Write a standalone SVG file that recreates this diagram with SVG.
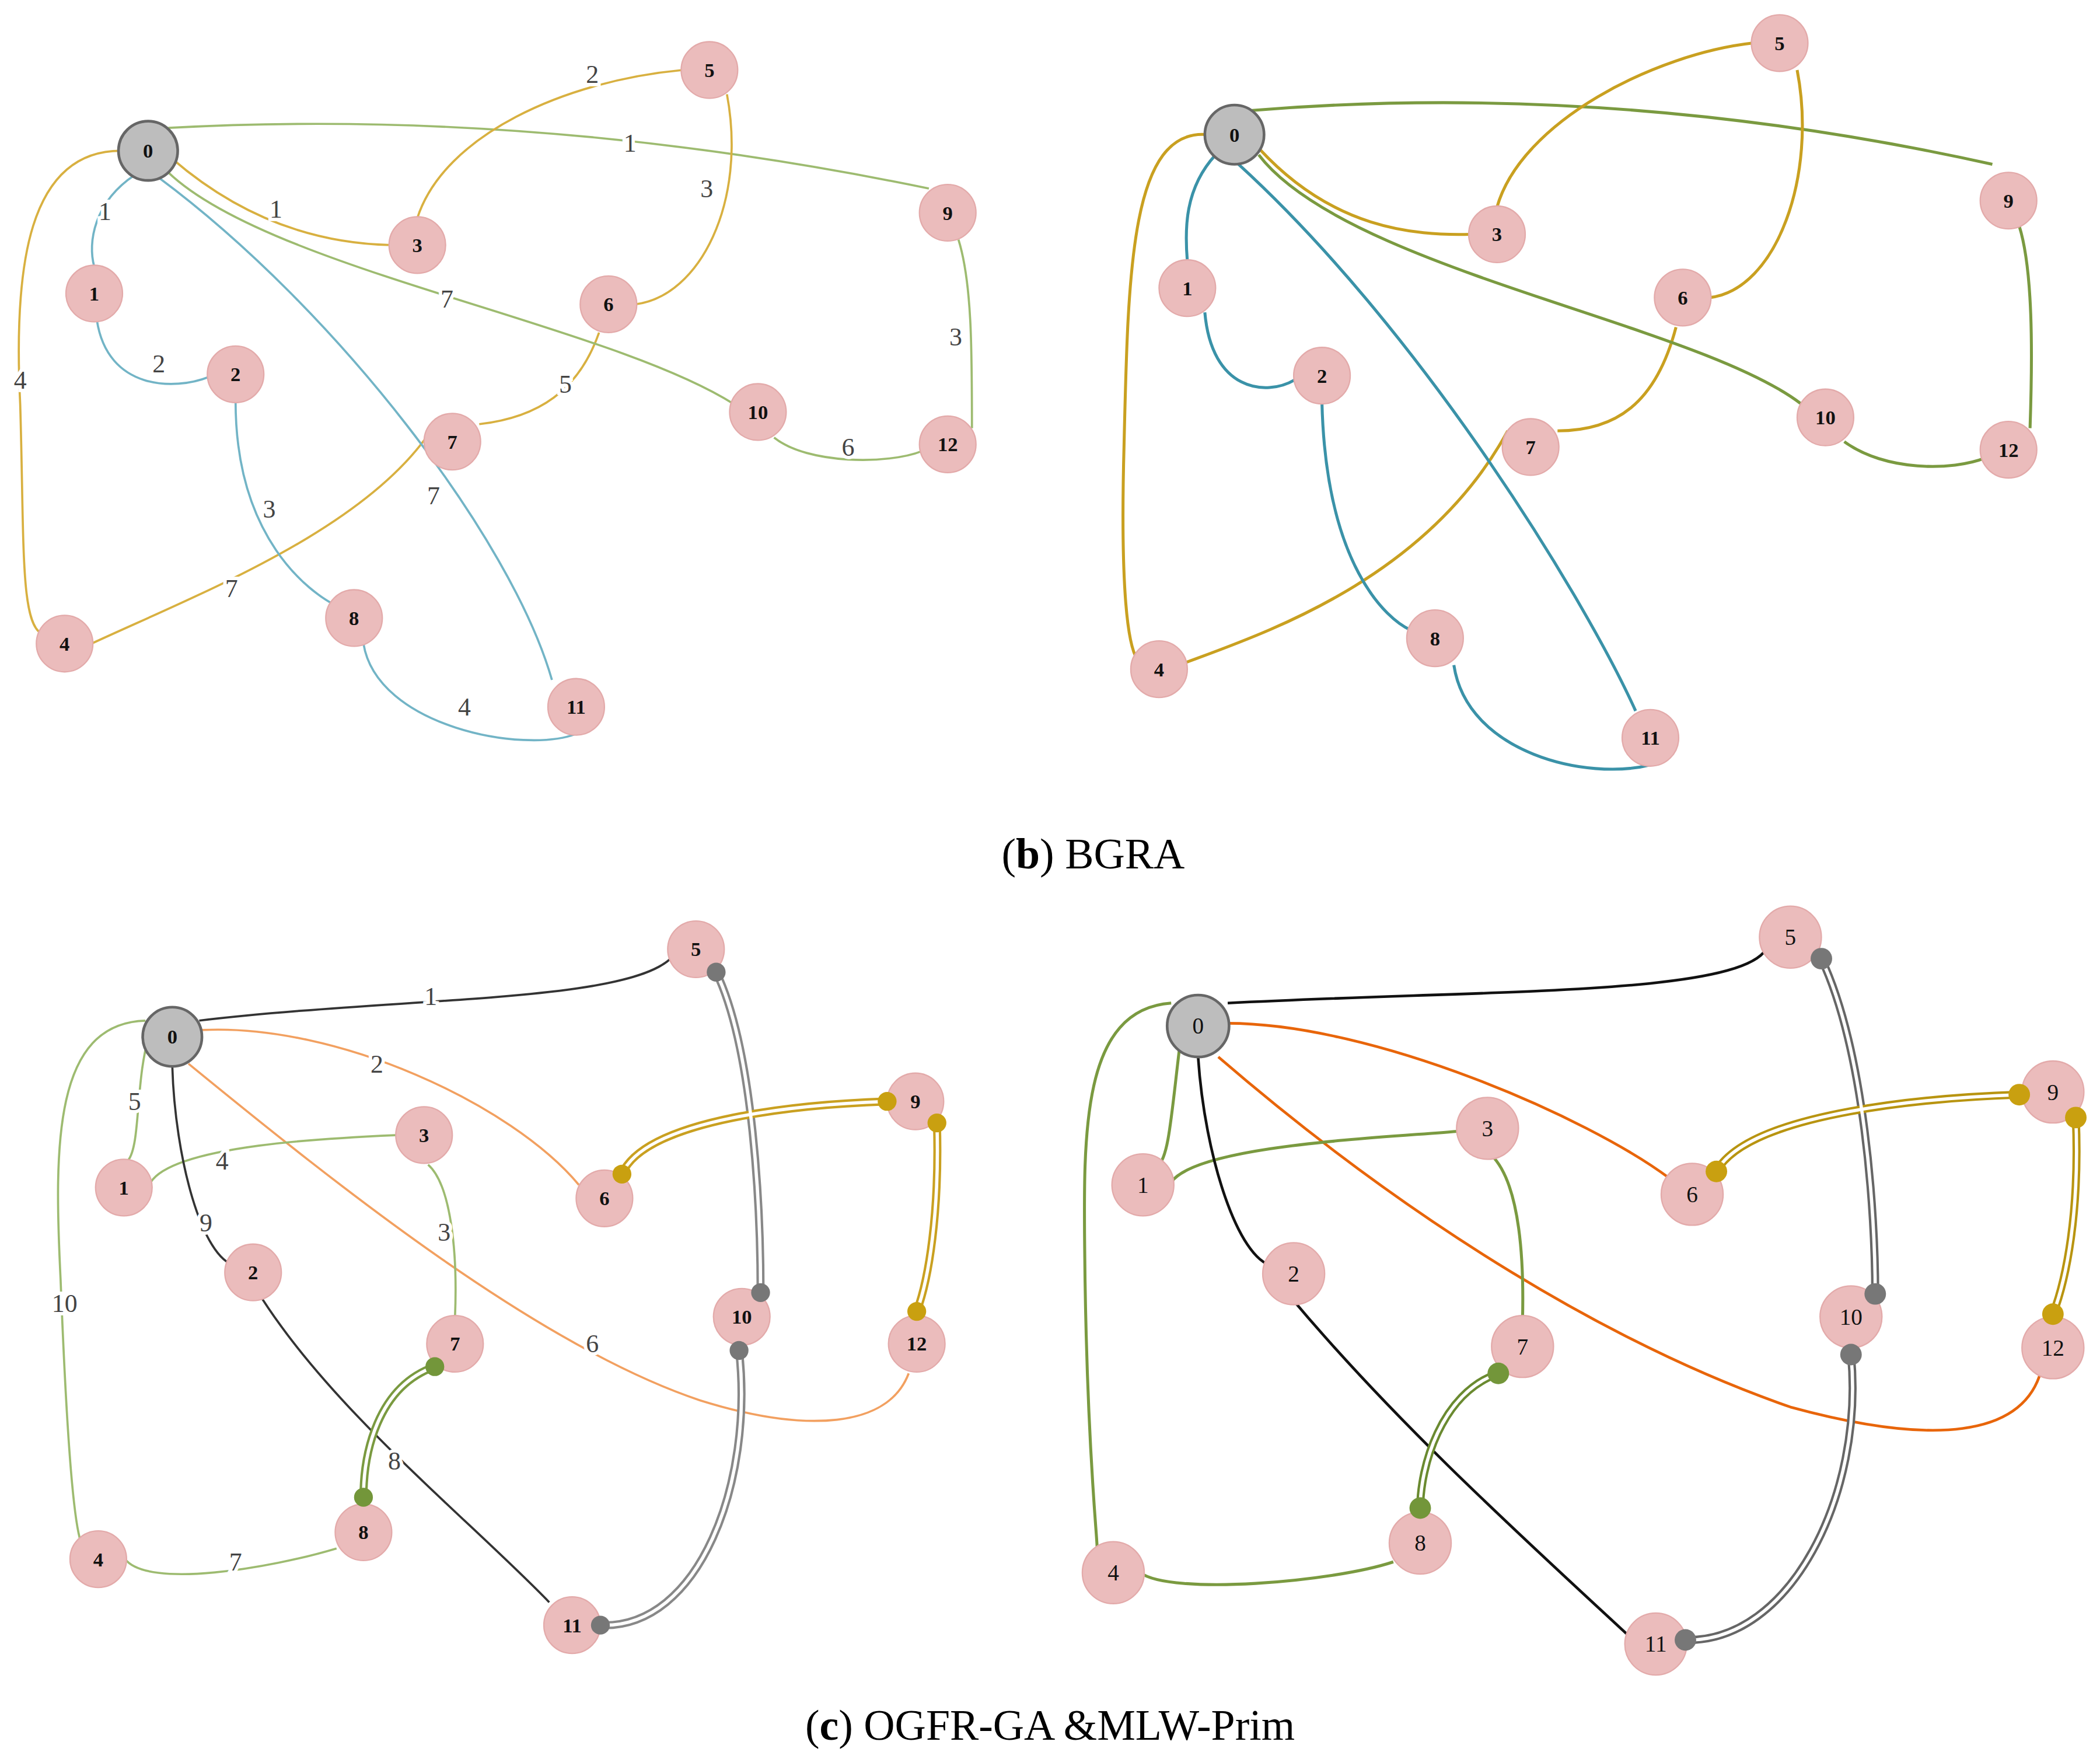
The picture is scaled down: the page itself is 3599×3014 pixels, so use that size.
<svg xmlns="http://www.w3.org/2000/svg" width="3599" height="3014" viewBox="0 0 3599 3014">
<style>
.n{fill:#ebbcbc;stroke:#e3aaaa;stroke-width:1}
.g{fill:#bdbdbd;stroke:#666;stroke-width:2}
.t{font-family:"Liberation Serif",serif;font-size:17px;text-anchor:middle;dominant-baseline:central;fill:#111}
.tb{font-weight:bold;font-size:15px}
.e{fill:none;stroke-width:1.6}
.lb{font-family:"Liberation Serif",serif;font-size:19px;text-anchor:middle;dominant-baseline:central;fill:#444;stroke:#fff;stroke-width:5;paint-order:stroke}
.cap{font-family:"Liberation Serif",serif;font-size:32px;text-anchor:middle;fill:#000}
.y1{stroke:#d8b040}.b1{stroke:#72b4c6}.gr1{stroke:#9dbb70}
.y2{stroke:#c9a020;stroke-width:2.2}.b2{stroke:#3a92a8;stroke-width:2.2}.gr2{stroke:#7a9a40;stroke-width:2.2}
.k{stroke:#333}.o1{stroke:#f2a060}.o2{stroke:#e8650a;stroke-width:2}.k2{stroke:#111;stroke-width:2}
.dbo{fill:none;stroke-width:6}.dbi{fill:none;stroke:#fff;stroke-width:2.4}
</style>
<rect width="3599" height="3014" fill="#fff"/>
<g transform="scale(2.3071)">
<g id="connectors">
<!-- top left -->
<path class="e gr1" d="M125,95 Q400,80 690,140"/>
<path class="e y1" d="M128,118 Q200,180 290,182"/>
<path class="e y1" d="M310,162 C330,100 420,60 507,52"/>
<path class="e y1" d="M540,70 C555,150 520,220 472,226"/>
<path class="e y1" d="M445,247 C430,290 400,310 356,315"/>
<path class="e y1" d="M325,312 C280,390 150,440 68,478"/>
<path class="e y1" d="M92,112 C20,110 10,200 15,300 C18,400 15,460 30,470"/>
<path class="e b1" d="M100,130 C70,150 65,180 70,198"/>
<path class="e b1" d="M72,238 C80,290 130,290 155,280"/>
<path class="e b1" d="M175,298 C175,400 230,440 250,450"/>
<path class="e b1" d="M270,478 C280,540 390,560 428,545"/>
<path class="e b1" d="M118,132 C250,230 380,400 410,505"/>
<path class="e gr1" d="M125,128 C200,200 450,240 545,300"/>
<path class="e gr1" d="M575,325 C600,345 660,345 685,335"/>
<path class="e gr1" d="M722,318 C722,260 722,210 712,178"/>
<text class="lb" x="468" y="106">1</text><text class="lb" x="205" y="155">1</text>
<text class="lb" x="440" y="55">2</text><text class="lb" x="525" y="140">3</text>
<text class="lb" x="420" y="285">5</text><text class="lb" x="172" y="437">7</text>
<text class="lb" x="15" y="282">4</text><text class="lb" x="78" y="157">1</text>
<text class="lb" x="118" y="270">2</text><text class="lb" x="200" y="378">3</text>
<text class="lb" x="345" y="525">4</text><text class="lb" x="322" y="368">7</text>
<text class="lb" x="332" y="222">7</text><text class="lb" x="630" y="332">6</text>
<text class="lb" x="710" y="250">3</text>
<!-- top right -->
<path class="e gr2" d="M930,82 Q1200,60 1480,122"/>
<path class="e y2" d="M935,110 C990,170 1050,175 1092,174"/>
<path class="e y2" d="M1112,154 C1130,90 1230,40 1302,32"/>
<path class="e y2" d="M1335,52 C1350,130 1320,215 1270,221"/>
<path class="e y2" d="M1245,243 C1230,300 1200,320 1157,320"/>
<path class="e y2" d="M1120,320 C1060,430 940,470 881,492"/>
<path class="e y2" d="M897,100 C840,95 838,200 835,330 C832,440 838,480 845,490"/>
<path class="e b2" d="M903,115 C880,140 880,170 882,194"/>
<path class="e b2" d="M895,232 C900,290 940,295 962,282"/>
<path class="e b2" d="M982,299 C985,420 1030,460 1048,468"/>
<path class="e b2" d="M1080,494 C1090,560 1180,580 1226,568"/>
<path class="e b2" d="M920,122 C1060,250 1180,450 1215,528"/>
<path class="e gr2" d="M935,115 C1000,200 1260,240 1338,300"/>
<path class="e gr2" d="M1370,328 C1400,350 1450,350 1475,340"/>
<path class="e gr2" d="M1508,318 C1510,260 1510,200 1500,168"/>
<!-- bottom left -->
<path class="e k" d="M148,758 C300,740 470,745 500,710"/>
<path class="e o1" d="M150,765 C250,760 380,820 430,880"/>
<path class="e o1" d="M140,790 C250,880 400,1000 520,1040 C600,1065 660,1060 675,1020"/>
<path class="e gr1" d="M112,765 C100,800 105,850 95,862"/>
<path class="e gr1" d="M112,878 C130,850 250,845 295,843"/>
<path class="e gr1" d="M318,865 C335,880 340,930 338,978"/>
<path class="e k" d="M128,792 C130,860 150,935 175,940"/>
<path class="e k" d="M195,965 C250,1050 350,1130 408,1190"/>
<path class="e gr1" d="M108,758 C40,760 40,850 45,950 C50,1080 55,1130 60,1145"/>
<path class="e gr1" d="M93,1158 C110,1180 200,1165 250,1150"/>
<text class="lb" x="320" y="740">1</text><text class="lb" x="280" y="790">2</text>
<text class="lb" x="440" y="998">6</text><text class="lb" x="100" y="818">5</text>
<text class="lb" x="165" y="862">4</text><text class="lb" x="330" y="915">3</text>
<text class="lb" x="153" y="908">9</text><text class="lb" x="293" y="1085">8</text>
<text class="lb" x="48" y="968">10</text><text class="lb" x="175" y="1160">7</text>
<!-- bottom right -->
<path class="e k2" d="M912,745 C1100,735 1290,740 1312,705"/>
<path class="e o2" d="M912,760 C1020,760 1180,830 1240,875"/>
<path class="e o2" d="M905,785 C1050,910 1200,1000 1330,1045 C1440,1075 1500,1065 1515,1022"/>
<path class="e gr2" d="M876,780 C870,830 868,860 860,866"/>
<path class="e gr2" d="M870,878 C890,850 1030,845 1085,840"/>
<path class="e gr2" d="M1108,858 C1130,880 1132,940 1131,980"/>
<path class="e k2" d="M890,785 C895,860 920,935 945,940"/>
<path class="e k2" d="M961,966 C1040,1060 1140,1150 1210,1215"/>
<path class="e gr2" d="M870,745 C800,750 805,850 806,950 C808,1080 815,1140 815,1150"/>
<path class="e gr2" d="M847,1168 C870,1185 990,1175 1035,1160"/>
</g>
<g id="doublelines">
<g stroke="#888"><path class="dbo" d="M532,722 C560,780 565,900 565,960"/><path class="dbo" d="M549,1003 C560,1100 520,1210 446,1207"/></g>
<g stroke="#c9a020"><path class="dbo" d="M462,872 C480,830 600,820 659,818"/><path class="dbo" d="M696,834 C698,900 690,950 681,974"/></g>
<g stroke="#7a9a40"><path class="dbo" d="M323,1015 C280,1030 270,1080 270,1112"/></g>
<path class="dbi" d="M532,722 C560,780 565,900 565,960"/><path class="dbi" d="M549,1003 C560,1100 520,1210 446,1207"/>
<path class="dbi" d="M462,872 C480,830 600,820 659,818"/><path class="dbi" d="M696,834 C698,900 690,950 681,974"/>
<path class="dbi" d="M323,1015 C280,1030 270,1080 270,1112"/>
<g stroke="#666"><path class="dbo" d="M1353,712 C1385,780 1393,900 1393,961"/><path class="dbo" d="M1375,1006 C1385,1110 1330,1220 1252,1218"/></g>
<g stroke="#b89410"><path class="dbo" d="M1275,870 C1300,825 1440,815 1500,813"/><path class="dbo" d="M1542,830 C1545,900 1535,950 1525,976"/></g>
<g stroke="#6a8a30"><path class="dbo" d="M1113,1020 C1070,1035 1055,1090 1055,1120"/></g>
<path class="dbi" d="M1353,712 C1385,780 1393,900 1393,961"/><path class="dbi" d="M1375,1006 C1385,1110 1330,1220 1252,1218"/>
<path class="dbi" d="M1275,870 C1300,825 1440,815 1500,813"/><path class="dbi" d="M1542,830 C1545,900 1535,950 1525,976"/>
<path class="dbi" d="M1113,1020 C1070,1035 1055,1090 1055,1120"/>
</g>
<g id="nodes">
<g id="tl0"><circle class="g" cx="110" cy="112" r="22"/><text class="t tb" x="110" y="112">0</text></g>
<g id="tl5"><circle class="n" cx="527" cy="52" r="21"/><text class="t tb" x="527" y="52">5</text></g>
<g id="tl3"><circle class="n" cx="310" cy="182" r="21"/><text class="t tb" x="310" y="182">3</text></g>
<g id="tl9"><circle class="n" cx="704" cy="158" r="21"/><text class="t tb" x="704" y="158">9</text></g>
<g id="tl1"><circle class="n" cx="70" cy="218" r="21"/><text class="t tb" x="70" y="218">1</text></g>
<g id="tl6"><circle class="n" cx="452" cy="226" r="21"/><text class="t tb" x="452" y="226">6</text></g>
<g id="tl2"><circle class="n" cx="175" cy="278" r="21"/><text class="t tb" x="175" y="278">2</text></g>
<g id="tl10"><circle class="n" cx="563" cy="306" r="21"/><text class="t tb" x="563" y="306">10</text></g>
<g id="tl12"><circle class="n" cx="704" cy="330" r="21"/><text class="t tb" x="704" y="330">12</text></g>
<g id="tl7"><circle class="n" cx="336" cy="328" r="21"/><text class="t tb" x="336" y="328">7</text></g>
<g id="tl4"><circle class="n" cx="48" cy="478" r="21"/><text class="t tb" x="48" y="478">4</text></g>
<g id="tl8"><circle class="n" cx="263" cy="459" r="21"/><text class="t tb" x="263" y="459">8</text></g>
<g id="tl11"><circle class="n" cx="428" cy="525" r="21"/><text class="t tb" x="428" y="525">11</text></g>

<g id="tr0"><circle class="g" cx="917" cy="100" r="22"/><text class="t tb" x="917" y="100">0</text></g>
<g id="tr5"><circle class="n" cx="1322" cy="32" r="21"/><text class="t tb" x="1322" y="32">5</text></g>
<g id="tr3"><circle class="n" cx="1112" cy="174" r="21"/><text class="t tb" x="1112" y="174">3</text></g>
<g id="tr9"><circle class="n" cx="1492" cy="149" r="21"/><text class="t tb" x="1492" y="149">9</text></g>
<g id="tr1"><circle class="n" cx="882" cy="214" r="21"/><text class="t tb" x="882" y="214">1</text></g>
<g id="tr6"><circle class="n" cx="1250" cy="221" r="21"/><text class="t tb" x="1250" y="221">6</text></g>
<g id="tr2"><circle class="n" cx="982" cy="279" r="21"/><text class="t tb" x="982" y="279">2</text></g>
<g id="tr10"><circle class="n" cx="1356" cy="310" r="21"/><text class="t tb" x="1356" y="310">10</text></g>
<g id="tr12"><circle class="n" cx="1492" cy="334" r="21"/><text class="t tb" x="1492" y="334">12</text></g>
<g id="tr7"><circle class="n" cx="1137" cy="332" r="21"/><text class="t tb" x="1137" y="332">7</text></g>
<g id="tr4"><circle class="n" cx="861" cy="497" r="21"/><text class="t tb" x="861" y="497">4</text></g>
<g id="tr8"><circle class="n" cx="1066" cy="474" r="21"/><text class="t tb" x="1066" y="474">8</text></g>
<g id="tr11"><circle class="n" cx="1226" cy="548" r="21"/><text class="t tb" x="1226" y="548">11</text></g>

<g id="bl0"><circle class="g" cx="128" cy="770" r="22"/><text class="t tb" x="128" y="770">0</text></g>
<g id="bl5"><circle class="n" cx="517" cy="705" r="21"/><text class="t tb" x="517" y="705">5</text></g>
<g id="bl3"><circle class="n" cx="315" cy="843" r="21"/><text class="t tb" x="315" y="843">3</text></g>
<g id="bl9"><circle class="n" cx="680" cy="818" r="21"/><text class="t tb" x="680" y="818">9</text></g>
<g id="bl1"><circle class="n" cx="92" cy="882" r="21"/><text class="t tb" x="92" y="882">1</text></g>
<g id="bl6"><circle class="n" cx="449" cy="890" r="21"/><text class="t tb" x="449" y="890">6</text></g>
<g id="bl2"><circle class="n" cx="188" cy="945" r="21"/><text class="t tb" x="188" y="945">2</text></g>
<g id="bl10"><circle class="n" cx="551" cy="978" r="21"/><text class="t tb" x="551" y="978">10</text></g>
<g id="bl12"><circle class="n" cx="681" cy="998" r="21"/><text class="t tb" x="681" y="998">12</text></g>
<g id="bl7"><circle class="n" cx="338" cy="998" r="21"/><text class="t tb" x="338" y="998">7</text></g>
<g id="bl4"><circle class="n" cx="73" cy="1158" r="21"/><text class="t tb" x="73" y="1158">4</text></g>
<g id="bl8"><circle class="n" cx="270" cy="1138" r="21"/><text class="t tb" x="270" y="1138">8</text></g>
<g id="bl11"><circle class="n" cx="425" cy="1207" r="21"/><text class="t tb" x="425" y="1207">11</text></g>

<g id="br0"><circle class="g" cx="890" cy="762" r="23"/><text class="t" x="890" y="762">0</text></g>
<g id="br5"><circle class="n" cx="1330" cy="696" r="23"/><text class="t" x="1330" y="696">5</text></g>
<g id="br3"><circle class="n" cx="1105" cy="838" r="23"/><text class="t" x="1105" y="838">3</text></g>
<g id="br9"><circle class="n" cx="1525" cy="811" r="23"/><text class="t" x="1525" y="811">9</text></g>
<g id="br1"><circle class="n" cx="849" cy="880" r="23"/><text class="t" x="849" y="880">1</text></g>
<g id="br6"><circle class="n" cx="1257" cy="887" r="23"/><text class="t" x="1257" y="887">6</text></g>
<g id="br2"><circle class="n" cx="961" cy="946" r="23"/><text class="t" x="961" y="946">2</text></g>
<g id="br10"><circle class="n" cx="1375" cy="978" r="23"/><text class="t" x="1375" y="978">10</text></g>
<g id="br12"><circle class="n" cx="1525" cy="1001" r="23"/><text class="t" x="1525" y="1001">12</text></g>
<g id="br7"><circle class="n" cx="1131" cy="1000" r="23"/><text class="t" x="1131" y="1000">7</text></g>
<g id="br4"><circle class="n" cx="827" cy="1168" r="23"/><text class="t" x="827" y="1168">4</text></g>
<g id="br8"><circle class="n" cx="1055" cy="1146" r="23"/><text class="t" x="1055" y="1146">8</text></g>
<g id="br11"><circle class="n" cx="1230" cy="1221" r="23"/><text class="t" x="1230" y="1221">11</text></g>
</g>
<g id="dots">
<g fill="#777"><circle cx="532" cy="722" r="7"/><circle cx="565" cy="960" r="7"/><circle cx="549" cy="1003" r="7"/><circle cx="446" cy="1207" r="7"/>
<circle cx="1353" cy="712" r="8"/><circle cx="1393" cy="961" r="8"/><circle cx="1375" cy="1006" r="8"/><circle cx="1252" cy="1218" r="8"/></g>
<g fill="#c9a010"><circle cx="462" cy="872" r="7"/><circle cx="659" cy="818" r="7"/><circle cx="696" cy="834" r="7"/><circle cx="681" cy="974" r="7"/>
<circle cx="1275" cy="870" r="8"/><circle cx="1500" cy="813" r="8"/><circle cx="1542" cy="830" r="8"/><circle cx="1525" cy="976" r="8"/></g>
<g fill="#73963a"><circle cx="323" cy="1015" r="7"/><circle cx="270" cy="1112" r="7"/><circle cx="1113" cy="1020" r="8"/><circle cx="1055" cy="1120" r="8"/></g>
</g>
<text class="cap" x="812" y="645">(<tspan font-weight="bold">b</tspan>) BGRA</text>
<text class="cap" x="780" y="1292">(<tspan font-weight="bold">c</tspan>) OGFR-GA &amp;MLW-Prim</text>
</g>
</svg>
